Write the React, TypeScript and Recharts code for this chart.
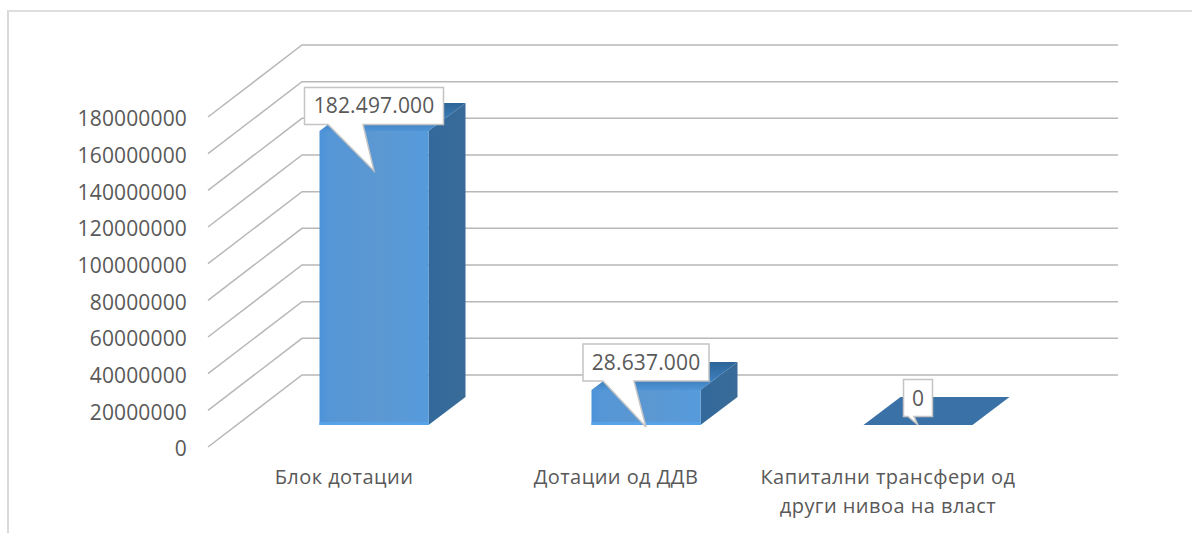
import { Bar, BarChart, CartesianGrid, LabelList, XAxis, YAxis } from "recharts";

const categories = ["Блок дотации", "Дотации од ДДВ", "Капитални трансфери од други нивоа на власт"];
// bar heights as they stand against the axis in the picture
const drawnValues = [160400000, 19100000, 0];
// values printed on the callouts
const printedValues = ["182.497.000", "28.637.000", "0"];
const yTicks = [0, 20000000, 40000000, 60000000, 80000000, 100000000, 120000000, 140000000, 160000000, 180000000];

const chartData = categories.map((name, i) => ({
  name,
  drawn: drawnValues[i],
  printed: printedValues[i],
}));

const FONT = '"Open Sans", sans-serif';
const TEXT_COLOR = "#595959";

// floor depth of the 3D box the chart sits in
const WALL_DX = 94;
const WALL_DY = -72;
// where the bars stand on the floor, and how deep they are
const BAR_DX = 29.5;
const BAR_DY = -22;
const BAR_DEPTH_X = 37;
const BAR_DEPTH_Y = -28;

const calloutLayout = [
  { width: 139, boxY: -25, tipY: 40, baseA: -46, baseB: -11 },
  { width: 126, boxY: -27.5, tipY: 37, baseA: -43, baseB: -12 },
  { width: 29, boxY: -27, tipY: 0, baseA: -10, baseB: -4 },
];

function wallLine(props: any) {
  const { x1, x2, y1, key } = props;
  const points = `${x1},${y1} ${x1 + WALL_DX},${y1 + WALL_DY} ${x2 + WALL_DX},${y1 + WALL_DY}`;
  return <polyline key={key} points={points} fill="none" stroke="#b8b8b8" strokeWidth={1.5} />;
}

function Box3D(props: any) {
  const x = props.x + BAR_DX;
  const y = props.y + BAR_DY;
  const w = props.width;
  const h = props.height;
  const dx = BAR_DEPTH_X;
  const dy = BAR_DEPTH_Y;
  return (
    <g>
      <polygon
        points={`${x},${y} ${x + w},${y} ${x + w + dx},${y + dy} ${x + dx},${y + dy}`}
        fill={h > 0 ? "url(#topGrad)" : "#3a72a8"}
      />
      {h > 0 && (
        <>
          <polygon
            points={`${x + w},${y} ${x + w + dx},${y + dy} ${x + w + dx},${y + dy + h} ${x + w},${y + h}`}
            fill="url(#sideGrad)"
          />
          <rect x={x} y={y} width={w} height={h} fill="url(#frontGrad)" />
          <rect x={x} y={y + h - 3} width={w} height={3} fill="#58a3e8" />
        </>
      )}
    </g>
  );
}

function Callout(props: any) {
  const { x, y, width, value, index } = props;
  const l = calloutLayout[index];
  const cx = x + BAR_DX + width / 2;
  const top = y + BAR_DY;
  const boxY = top + l.boxY;
  const bh = 37;
  const left = cx - l.width / 2;
  const right = cx + l.width / 2;
  const yA = boxY - bh / 2;
  const yB = boxY + bh / 2;
  const path = `M${left},${yA} H${right} V${yB} H${cx + l.baseB} L${cx},${top + l.tipY} L${cx + l.baseA},${yB} H${left} Z`;
  return (
    <g>
      <path d={path} fill="#ffffff" stroke="#c4c4c4" strokeWidth={1.5} />
      <text x={cx} y={boxY + 7.5} textAnchor="middle" fontFamily={FONT} fontSize={21} letterSpacing={0.15} fill={TEXT_COLOR}>
        {value}
      </text>
    </g>
  );
}

function CategoryTick(props: any) {
  const { x, payload } = props;
  const words = String(payload.value).split(" ");
  const lines: string[] = [];
  for (const word of words) {
    const last = lines[lines.length - 1];
    if (last !== undefined && (last + " " + word).length <= 23) lines[lines.length - 1] = last + " " + word;
    else lines.push(word);
  }
  return (
    <text textAnchor="middle" fontFamily={FONT} fontSize={20} letterSpacing={0.45} fill={TEXT_COLOR}>
      {lines.map((line, i) => (
        <tspan key={i} x={x} y={484 + i * 29}>
          {line}
        </tspan>
      ))}
    </text>
  );
}

export default function App() {
  return (
    <div style={{ position: "absolute", left: 0, top: 0, width: 1192, height: 533, background: "#fff", overflow: "hidden" }}>
      <div
        style={{
          position: "absolute",
          left: 7,
          top: 10,
          width: 1185,
          height: 523,
          boxSizing: "border-box",
          borderLeft: "2px solid #d9d9d9",
          borderTop: "2px solid #dedede",
        }}
      />
      <div style={{ position: "absolute", left: 0, top: 0 }}>
        <BarChart
          width={1192}
          height={533}
          data={chartData}
          barSize={109}
          margin={{ top: 117, right: 168, bottom: 26, left: 88 }}
        >
          <defs>
            <linearGradient id="frontGrad" x1="0" y1="0" x2="1" y2="0">
              <stop offset="0%" stopColor="#4c93da" />
              <stop offset="8%" stopColor="#5596d6" />
              <stop offset="55%" stopColor="#5c98d2" />
              <stop offset="100%" stopColor="#559bdc" />
            </linearGradient>
            <linearGradient id="sideGrad" x1="0" y1="0" x2="1" y2="0">
              <stop offset="0%" stopColor="#32699c" />
              <stop offset="100%" stopColor="#3a6b98" />
            </linearGradient>
            <linearGradient id="topGrad" x1="0" y1="0" x2="0" y2="1">
              <stop offset="0%" stopColor="#2c6597" />
              <stop offset="55%" stopColor="#3a7ab6" />
              <stop offset="100%" stopColor="#4f94d6" />
            </linearGradient>
          </defs>
          <CartesianGrid vertical={false} horizontal={wallLine} />
          <XAxis dataKey="name" axisLine={false} tickLine={false} height={60} interval={0} tick={CategoryTick} />
          <YAxis
            width={120}
            domain={[0, 180000000]}
            ticks={yTicks}
            interval={0}
            axisLine={false}
            tickLine={false}
            tickMargin={15}
            tick={{ fontFamily: FONT, fontSize: 21, letterSpacing: 0.15, fill: TEXT_COLOR, dy: 2 }}
          />
          <Bar dataKey="drawn" shape={Box3D} isAnimationActive={false}>
            <LabelList dataKey="printed" content={Callout} />
          </Bar>
        </BarChart>
      </div>
    </div>
  );
}
